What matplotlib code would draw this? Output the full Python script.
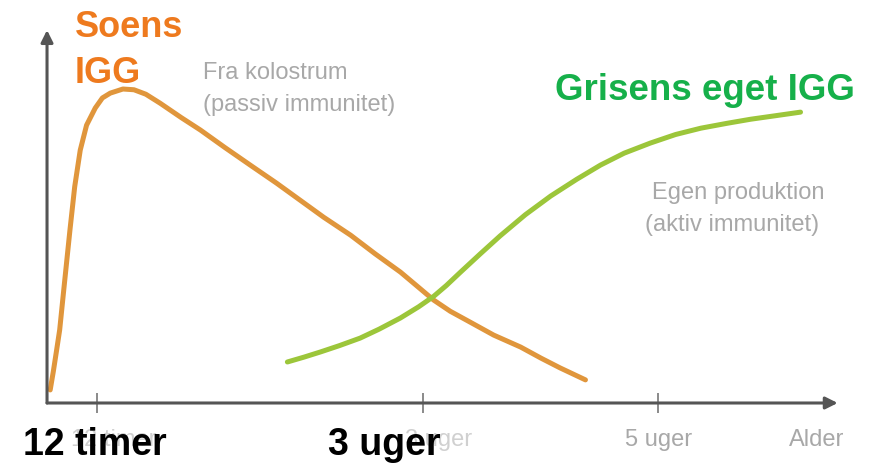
import matplotlib.pyplot as plt

plt.rcParams['font.family'] = ['Liberation Sans', 'DejaVu Sans']

# IgG from the sow (colostrum)
soens_x = [0.4, 0.8, 1.2, 1.6, 2.1, 2.9, 3.5, 4.2, 5.0, 6.1, 7.0, 8.0, 9.6, 11.0, 12.5, 14.3,
           17.0, 19.4, 22.5, 25.7, 29.0, 32.0, 35.0, 38.4, 41.5, 44.7, 47.0, 48.9, 51.0,
           53.5, 56.5, 59.9, 62.5, 64.9, 66.5, 68.1]
soens_y = [3.5, 8.5, 14.0, 19.6, 30.0, 46.4, 58.0, 67.8, 74.5, 79.1, 81.8, 83.1, 84.2, 84.0,
           82.8, 80.4, 76.5, 73.2, 68.5, 63.8, 59.0, 54.4, 49.8, 45.0, 40.0, 35.1, 31.0,
           27.6, 24.6, 21.7, 18.2, 15.0, 12.0, 9.4, 7.8, 6.2]

# pig's own IgG
grisens_x = [30.4, 32.5, 34.6, 37.0, 39.6, 42.0, 44.7, 47.0, 48.9, 50.5, 52.3, 54.8, 57.3,
             60.5, 63.7, 67.0, 70.0, 73.0, 76.3, 79.5, 82.7, 86.0, 89.0, 92.0, 95.3]
grisens_y = [11.0, 12.3, 13.7, 15.4, 17.4, 19.8, 22.8, 25.8, 28.6, 31.5, 35.1, 40.0, 44.8,
             50.5, 55.5, 60.0, 63.8, 67.0, 69.7, 72.0, 73.7, 75.0, 76.1, 77.0, 78.0]

tick_pos = [6.3, 47.6, 77.3]

fig = plt.figure(figsize=(8.79, 4.63), dpi=100)
ax = fig.add_axes([0.0535, 0.1296, 0.8995, 0.8054])
ax.set_xlim(0, 100)
ax.set_ylim(0, 100)
for s in ax.spines.values():
    s.set_visible(False)
ax.set_yticks([])
ax.set_xticks(tick_pos)
ax.set_xticklabels([])
ax.tick_params(axis='x', direction='inout', length=14, width=1.2, color='#777777')

# axes with arrows
arrow = dict(arrowstyle='-|>', color='#555555', lw=2.2, mutation_scale=18, shrinkA=0, shrinkB=0)
ax.annotate('', xy=(1.0, 0), xytext=(0, 0), xycoords='axes fraction',
            arrowprops=arrow, annotation_clip=False)
ax.annotate('', xy=(0, 1.0), xytext=(0, 0), xycoords='axes fraction',
            arrowprops=arrow, annotation_clip=False)

ax.plot(soens_x, soens_y, color='#E0963C', lw=3.6, solid_capstyle='round', clip_on=False)
ax.plot(grisens_x, grisens_y, color='#9CC63A', lw=3.6, solid_capstyle='round', clip_on=False)

# headline labels
ax.text(0.0354, 0.9815, 'Soens', transform=ax.transAxes, color='#EE7A1E', fontsize=26,
        fontweight='bold', va='baseline', ha='left')
ax.text(0.0354, 0.858, 'IGG', transform=ax.transAxes, color='#EE7A1E', fontsize=26,
        fontweight='bold', va='baseline', ha='left')
ax.text(0.6425, 0.8135, 'Grisens eget IGG', transform=ax.transAxes, color='#16B04A',
        fontsize=26.5, fontweight='bold', va='baseline', ha='left')

# faint original annotations
grey = '#a8a8a8'
ax.text(0.197, 0.885, 'Fra kolostrum', transform=ax.transAxes, color=grey,
        fontsize=17, va='center', ha='left')
ax.text(0.197, 0.799, '(passiv immunitet)', transform=ax.transAxes, color=grey,
        fontsize=17, va='center', ha='left')
ax.text(0.765, 0.563, 'Egen produktion', transform=ax.transAxes, color=grey,
        fontsize=17, va='center', ha='left')
ax.text(0.756, 0.477, '(aktiv immunitet)', transform=ax.transAxes, color=grey,
        fontsize=17, va='center', ha='left')
xt = ax.get_xaxis_transform()
ax.text(77.3, -0.1, '5 uger', transform=xt, color=grey, fontsize=17, ha='center', va='center')
ax.text(97.3, -0.1, 'Alder', transform=xt, color=grey, fontsize=17, ha='center', va='center')
ax.text(8.5, -0.1, '12 timer', transform=xt, color='#d0d0d0', fontsize=17,
        ha='center', va='center')
ax.text(49.5, -0.1, '3 uger', transform=xt, color='#d0d0d0', fontsize=17,
        ha='center', va='center')

# bold black labels under the axis
ax.text(-0.0304, -0.139, '12 timer', transform=ax.transAxes, color='black',
        fontsize=27, fontweight='bold', ha='left', va='baseline')
ax.text(0.3554, -0.139, '3 uger', transform=ax.transAxes, color='black',
        fontsize=27, fontweight='bold', ha='left', va='baseline')

fig.savefig('out.png', dpi=100)
